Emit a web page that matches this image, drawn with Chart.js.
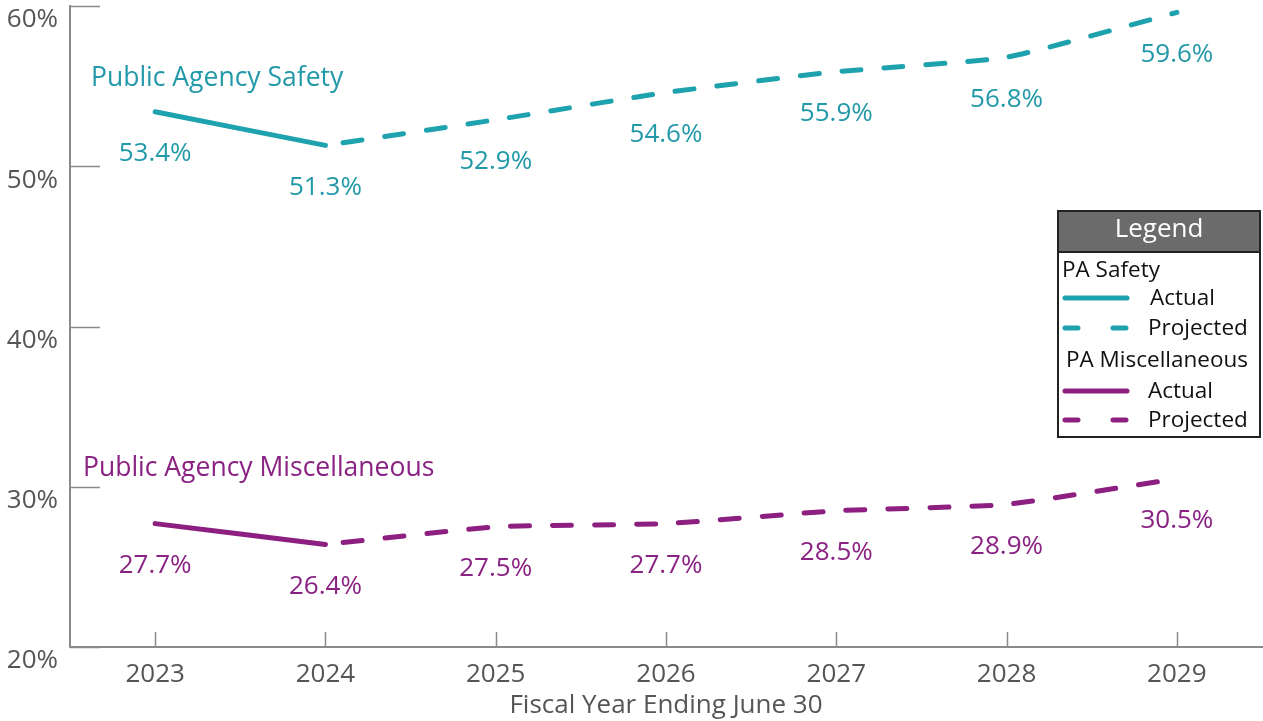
<!DOCTYPE html>
<html>
<head>
<meta charset="utf-8">
<script src="https://cdn.jsdelivr.net/npm/chart.js@4"></script>
<style>
  html, body { margin: 0; padding: 0; background: #fff; }
  canvas { display: block; }
</style>
</head>
<body>
<canvas id="fundedChart" width="1263" height="721"></canvas>
<script>
const years = ["2023", "2024", "2025", "2026", "2027", "2028", "2029"];
const safetyActual = [53.4, 51.3, null, null, null, null, null];
const safetyProjected = [null, 51.3, 52.9, 54.6, 55.9, 56.8, 59.6];
const miscActual = [27.7, 26.4, null, null, null, null, null];
const miscProjected = [null, 26.4, 27.5, 27.7, 28.5, 28.9, 30.5];
const yTicks = [20, 30, 40, 50, 60];

const TEAL = "#1ea2ad";
const TEAL_TEXT = "#2299a8";
const PURPLE = "#8c1f80";
const PURPLE_TEXT = "#8a2283";
const AXIS = "#8a8a8a";
const LABEL = "#555";
const FONT = "'Open Sans', 'Noto Sans', sans-serif";

function lineSet(label, data, color, dashed) {
  return {
    label: label,
    data: data,
    borderColor: color,
    borderWidth: 5,
    borderCapStyle: "round",
    borderJoinStyle: "round",
    borderDash: dashed ? [19, 23] : [],
    borderDashOffset: dashed ? 24 : 0,
    pointRadius: 0,
    tension: 0.15,
    fill: false,
    spanGaps: false
  };
}

const overlay = {
  id: "overlay",
  afterDraw(chart) {
    const ctx = chart.ctx;
    const x = chart.scales.x;
    const y = chart.scales.y;
    const area = chart.chartArea;
    ctx.save();

    // inward tick marks
    ctx.strokeStyle = AXIS;
    ctx.lineWidth = 1.5;
    yTicks.forEach(v => {
      const py = Math.round(y.getPixelForValue(v)) + 0.5;
      ctx.beginPath();
      ctx.moveTo(area.left, py);
      ctx.lineTo(area.left + 30, py);
      ctx.stroke();
    });
    years.forEach((yr, i) => {
      const px = Math.round(x.getPixelForValue(i)) + 0.5;
      ctx.beginPath();
      ctx.moveTo(px, area.bottom);
      ctx.lineTo(px, area.bottom - 15);
      ctx.stroke();
    });

    // value labels under each point
    ctx.font = "26px " + FONT;
    ctx.textAlign = "center";
    ctx.textBaseline = "middle";
    const groups = [
      { actual: safetyActual, proj: safetyProjected, color: TEAL_TEXT },
      { actual: miscActual, proj: miscProjected, color: PURPLE_TEXT }
    ];
    groups.forEach(g => {
      ctx.fillStyle = g.color;
      years.forEach((yr, i) => {
        const v = g.actual[i] !== null ? g.actual[i] : g.proj[i];
        if (v === null) return;
        ctx.fillText(v.toFixed(1) + "%", x.getPixelForValue(i), y.getPixelForValue(v) + 42);
      });
    });

    // series names
    ctx.textAlign = "left";
    ctx.font = "26.5px " + FONT;
    ctx.fillStyle = TEAL_TEXT;
    ctx.fillText("Public Agency Safety", 91, 78);
    ctx.fillStyle = PURPLE_TEXT;
    ctx.fillText("Public Agency Miscellaneous", 83, 468);

    // legend box
    const lx = 1058, ly = 211, lw = 202, lh = 226;
    ctx.fillStyle = "#fff";
    ctx.fillRect(lx, ly, lw, lh);
    ctx.fillStyle = "#6b6b6b";
    ctx.fillRect(lx, ly, lw, 41);
    ctx.strokeStyle = "#222";
    ctx.lineWidth = 2;
    ctx.strokeRect(lx, ly, lw, lh);
    ctx.beginPath();
    ctx.moveTo(lx, ly + 41);
    ctx.lineTo(lx + lw, ly + 41);
    ctx.stroke();

    ctx.fillStyle = "#fff";
    ctx.textAlign = "center";
    ctx.font = "26px " + FONT;
    ctx.fillText("Legend", lx + lw / 2, ly + 19);

    ctx.textAlign = "left";
    ctx.font = "22.5px " + FONT;
    ctx.fillStyle = "#111";
    ctx.fillText("PA Safety", 1062, 271);
    ctx.fillText("PA Miscellaneous", 1066, 361);

    const rows = [
      { y: 298, color: TEAL, dashed: false, text: "Actual", tx: 1150 },
      { y: 328, color: TEAL, dashed: true, text: "Projected", tx: 1148 },
      { y: 391, color: PURPLE, dashed: false, text: "Actual", tx: 1148 },
      { y: 420, color: PURPLE, dashed: true, text: "Projected", tx: 1148 }
    ];
    rows.forEach(r => {
      ctx.strokeStyle = r.color;
      ctx.lineWidth = 5;
      ctx.lineCap = "round";
      ctx.setLineDash(r.dashed ? [13, 35] : []);
      ctx.beginPath();
      ctx.moveTo(1065, r.y);
      ctx.lineTo(1127, r.y);
      ctx.stroke();
      ctx.setLineDash([]);
      ctx.fillStyle = "#111";
      ctx.fillText(r.text, r.tx, r.y + 1);
    });

    ctx.restore();
  }
};

new Chart(document.getElementById("fundedChart"), {
  type: "line",
  data: {
    labels: years,
    datasets: [
      lineSet("PA Safety Actual", safetyActual, TEAL, false),
      lineSet("PA Safety Projected", safetyProjected, TEAL, true),
      lineSet("PA Miscellaneous Actual", miscActual, PURPLE, false),
      lineSet("PA Miscellaneous Projected", miscProjected, PURPLE, true)
    ]
  },
  options: {
    responsive: false,
    animation: false,
    layout: { autoPadding: false, padding: { top: 6, right: 1, left: 0, bottom: 0 } },
    plugins: {
      legend: { display: false },
      tooltip: { enabled: false }
    },
    scales: {
      x: {
        type: "category",
        offset: true,
        grid: { display: false, drawTicks: false },
        border: { display: true, color: AXIS, width: 2 },
        ticks: { color: LABEL, font: { family: FONT, size: 26 }, padding: 12 },
        title: {
          display: true,
          text: "Fiscal Year Ending June 30",
          color: LABEL,
          font: { family: FONT, size: 26 },
          padding: { top: 0, bottom: 0 }
        },
        afterFit(scale) {
          scale.height = 74;
          scale.paddingLeft = 0;
          scale.paddingRight = 0;
        }
      },
      y: {
        min: 20,
        max: 60,
        grid: { display: false, drawTicks: false },
        border: { display: true, color: AXIS, width: 2 },
        ticks: {
          stepSize: 10,
          color: LABEL,
          font: { family: FONT, size: 26 },
          padding: 12,
          labelOffset: 14,
          callback: v => v + "%"
        },
        afterFit(scale) {
          scale.width = 70;
          scale.paddingTop = 0;
          scale.paddingBottom = 0;
        }
      }
    }
  },
  plugins: [overlay]
});
</script>
</body>
</html>
